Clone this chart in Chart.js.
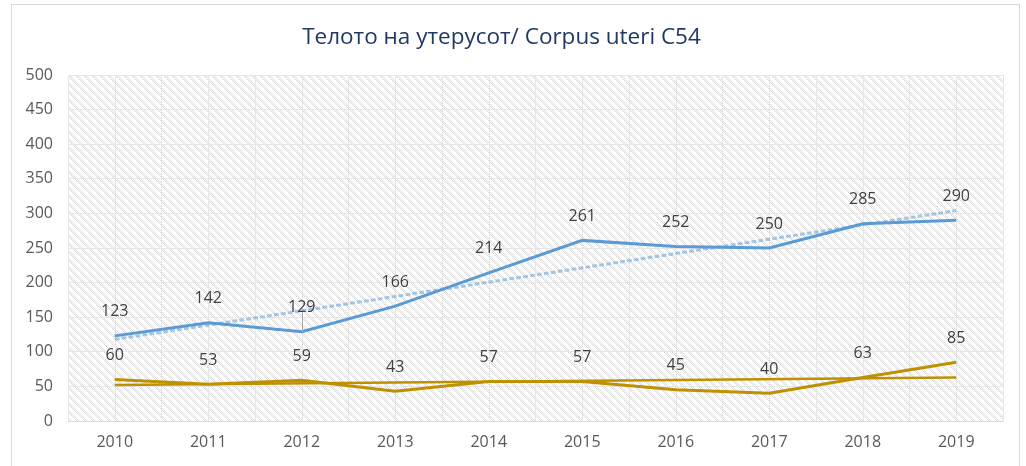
<!DOCTYPE html>
<html>
<head>
<meta charset="utf-8">
<script src="https://cdn.jsdelivr.net/npm/chart.js@4.4.1/dist/chart.umd.min.js"></script>
<style>
html,body{margin:0;padding:0;background:#fff;}
#wrap{width:1026px;height:466px;position:relative;}
</style>
</head>
<body>
<div id="wrap"><canvas id="c" width="1026" height="466"></canvas></div>
<script>
const categories = ['2010','2011','2012','2013','2014','2015','2016','2017','2018','2019'];
const blueValues = [123,142,129,166,214,261,252,250,285,290];
const goldValues = [60,53,59,43,57,57,45,40,63,85];
// trend line endpoints (2010 and 2019)
const blueTrend = [118,null,null,null,null,null,null,null,null,304];
const goldTrend = [52,null,null,null,null,null,null,null,null,63];
const yTicks = [0,50,100,150,200,250,300,350,400,450,500];
const titleText = 'Телото на утерусот/ Corpus uteri C54';

const FONT = '"Open Sans", "Liberation Sans", sans-serif';

function makePattern(){
  const p = document.createElement('canvas');
  p.width = 8; p.height = 8;
  const g = p.getContext('2d');
  g.fillStyle = '#ffffff'; g.fillRect(0,0,8,8);
  g.fillStyle = '#dadada';
  for(let y=0;y<8;y++){
    for(let x=0;x<8;x++){
      const d = ((x - y) % 8 + 8) % 8;
      if(d < 4 && ((x + y) % 2 === 0)) g.fillRect(x,y,1,1);
    }
  }
  return p;
}

const bgPlugin = {
  id:'bg',
  beforeDraw(chart){
    const {ctx, chartArea:a} = chart;
    ctx.save();
    ctx.fillStyle = '#fff';
    ctx.fillRect(0,0,chart.width,chart.height);
    ctx.strokeStyle = '#d9d9d9';
    ctx.lineWidth = 1;
    ctx.strokeRect(11.5,4.5,1008,480);
    const pat = ctx.createPattern(makePattern(),'repeat');
    ctx.fillStyle = pat;
    ctx.fillRect(a.left,a.top,a.right-a.left,a.bottom-a.top);
    // extra vertical gridlines at category centres
    const xs = chart.scales.x;
    ctx.strokeStyle = '#e6e6e6';
    ctx.lineWidth = 1;
    for(let i=0;i<categories.length;i++){
      const x = Math.round(xs.getPixelForValue(i)) + 0.5;
      ctx.beginPath(); ctx.moveTo(x,a.top); ctx.lineTo(x,a.bottom); ctx.stroke();
    }
    ctx.restore();
  }
};

const labelPlugin = {
  id:'labels',
  afterDatasetsDraw(chart){
    const ctx = chart.ctx;
    ctx.save();
    // thin drop line at 2012 between trend and value
    const tm = chart.getDatasetMeta(2).data;
    const bm = chart.getDatasetMeta(0).data;
    const i = 2;
    const t = (bm[i].x - tm[0].x)/(tm[9].x - tm[0].x);
    const ty = tm[0].y + t*(tm[9].y - tm[0].y);
    ctx.strokeStyle = '#a6a6a6'; ctx.lineWidth = 1;
    ctx.beginPath(); ctx.moveTo(Math.round(bm[i].x)+0.5, ty); ctx.lineTo(Math.round(bm[i].x)+0.5, bm[i].y); ctx.stroke();

    ctx.fillStyle = '#404040';
    ctx.font = '16px ' + FONT;
    ctx.textAlign = 'center';
    ctx.textBaseline = 'middle';
    [0,1].forEach(di=>{
      const meta = chart.getDatasetMeta(di);
      const vals = chart.data.datasets[di].data;
      meta.data.forEach((pt,k)=>{
        ctx.fillText(String(vals[k]), pt.x, pt.y - 24);
      });
    });
    ctx.restore();
  }
};

new Chart(document.getElementById('c'),{
  type:'line',
  data:{
    labels:categories,
    datasets:[
      {data:blueValues,borderColor:'#5B9BD5',borderWidth:3,pointRadius:0,tension:0,order:1},
      {data:goldValues,borderColor:'#BF9000',borderWidth:3,pointRadius:0,tension:0,order:1},
      {data:blueTrend,borderColor:'rgba(91,155,213,0.5)',borderWidth:3,borderDash:[5,2],pointRadius:0,spanGaps:true,order:2},
      {data:goldTrend,borderColor:'#BF9000',borderWidth:2.5,pointRadius:0,spanGaps:true,order:2}
    ]
  },
  options:{
    responsive:false,
    animation:false,
    layout:{padding:{left:0,right:23,top:0,bottom:0}},
    plugins:{
      legend:{display:false},
      tooltip:{enabled:false},
      title:{display:true,text:titleText,color:'#1F3864',font:{family:FONT,size:22.5,weight:'normal'},padding:{top:24,bottom:24}}
    },
    scales:{
      x:{
        offset:true,
        grid:{offset:true,color:'#e6e6e6',drawTicks:false},
        border:{display:true,color:'#d9d9d9'},
        ticks:{color:'#595959',font:{family:FONT,size:16},padding:12},
        afterFit(s){s.height=45;}
      },
      y:{
        min:0,max:500,
        afterBuildTicks(s){s.ticks = yTicks.map(v=>({value:v}));},
        grid:{color:'#e6e6e6',drawTicks:false},
        border:{display:false},
        ticks:{color:'#595959',font:{family:FONT,size:16},padding:15},
        afterFit(s){s.width=68;}
      }
    }
  },
  plugins:[bgPlugin,labelPlugin]
});
</script>
</body>
</html>
